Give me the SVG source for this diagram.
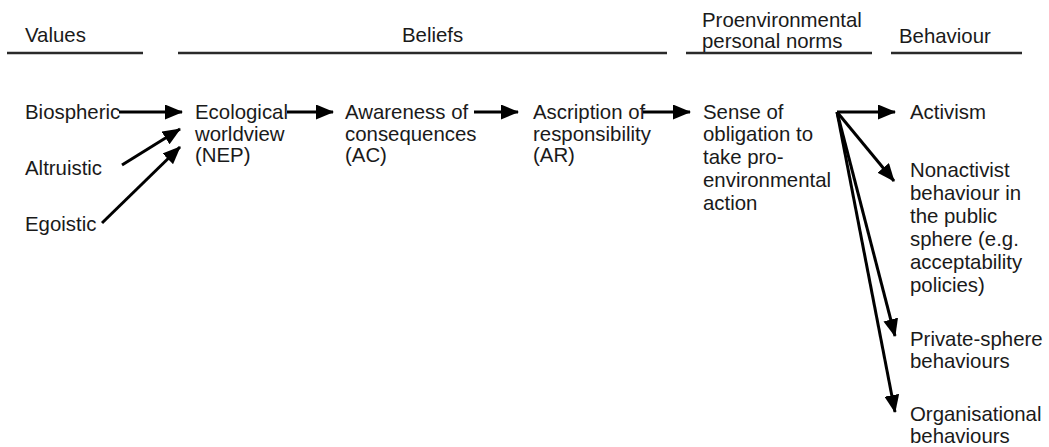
<svg xmlns="http://www.w3.org/2000/svg" width="1049" height="447" viewBox="0 0 1049 447">
<style>
text{font-family:"Liberation Sans",Arial,sans-serif;font-size:20.4px;fill:#1a1a1a}
.hl{stroke:#2a2a2a;stroke-width:2.5}
.ar{stroke:#000;stroke-width:3;fill:none;marker-end:url(#ah)}
</style>
<defs>
<marker id="ah" markerUnits="userSpaceOnUse" markerWidth="19" markerHeight="15" refX="17" refY="7.5" orient="auto">
<path d="M0,0 L18,7.5 L0,15 z" fill="#000"/>
</marker>
</defs>
<rect width="1049" height="447" fill="#fff"/>
<g id="headers">
<text x="25" y="42">Values</text>
<line class="hl" x1="7" y1="53" x2="143" y2="53"/>
<text x="402" y="42">Beliefs</text>
<line class="hl" x1="178" y1="53" x2="667" y2="53"/>
<text x="702" y="27">Proenvironmental</text>
<text x="702" y="48">personal norms</text>
<line class="hl" x1="686" y1="53" x2="872" y2="53"/>
<text x="899" y="43">Behaviour</text>
<line class="hl" x1="891" y1="53" x2="1022" y2="53"/>
</g>
<g id="biospheric"><text x="25" y="119">Biospheric</text></g>
<g id="altruistic"><text x="25" y="175">Altruistic</text></g>
<g id="egoistic"><text x="25" y="231">Egoistic</text></g>
<g id="nep"><text x="195" y="119">Ecological</text><text x="195" y="141">worldview</text><text x="195" y="162">(NEP)</text></g>
<g id="ac"><text x="345" y="119">Awareness of</text><text x="345" y="141">consequences</text><text x="345" y="162">(AC)</text></g>
<g id="ar"><text x="533" y="119">Ascription of</text><text x="533" y="141">responsibility</text><text x="533" y="162">(AR)</text></g>
<g id="pn"><text x="703" y="119">Sense of</text><text x="703" y="141">obligation to</text><text x="703" y="164">take pro-</text><text x="703" y="187">environmental</text><text x="703" y="210">action</text></g>
<g id="activism"><text x="910" y="119">Activism</text></g>
<g id="nonactivist"><text x="910" y="177">Nonactivist</text><text x="910" y="200">behaviour in</text><text x="910" y="223">the public</text><text x="910" y="246">sphere (e.g.</text><text x="910" y="269">acceptability</text><text x="910" y="292">policies)</text></g>
<g id="private"><text x="910" y="346">Private-sphere</text><text x="910" y="368">behaviours</text></g>
<g id="organisational"><text x="910" y="421">Organisational</text><text x="910" y="443">behaviours</text></g>
<g id="connectors">
<line class="ar" x1="119" y1="112" x2="182" y2="112"/>
<line class="ar" x1="122" y1="165" x2="180" y2="129"/>
<line class="ar" x1="102" y1="223" x2="180" y2="147"/>
<line class="ar" x1="287" y1="112" x2="333" y2="112"/>
<line class="ar" x1="474" y1="112" x2="518" y2="112"/>
<line class="ar" x1="643" y1="112" x2="690" y2="112"/>
<line class="ar" x1="837" y1="112" x2="895" y2="112"/>
<line class="ar" x1="837" y1="112" x2="894" y2="181"/>
<line class="ar" x1="837" y1="112" x2="895" y2="336"/>
<line class="ar" x1="837" y1="112" x2="895" y2="412"/>
</g>
</svg>
